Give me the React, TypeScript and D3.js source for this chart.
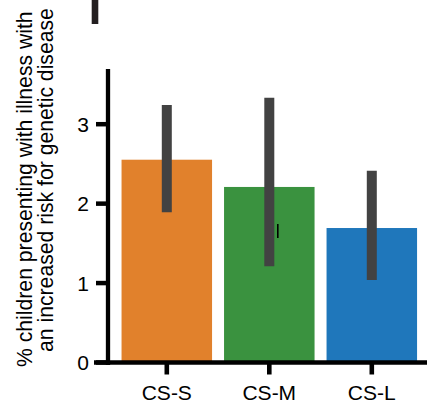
import React from "react";
import * as d3 from "d3";

const categories = ["CS-S", "CS-M", "CS-L"];
const means = [2.553, 2.21, 1.693];
const ciLow = [1.891, 1.211, 1.039];
const ciHigh = [3.242, 3.334, 2.415];
const colors = ["#E1812C", "#3A923F", "#1F77BB"];
const yTicks = [0, 1, 2, 3];
const yLabelLines = [
  "% children presenting with illness with",
  "an increased risk for genetic disease",
];
// stray glyph in the original, on the CS-M bar (value range)
const strayMark = { category: "CS-M", offset: 8.5, from: 1.567, to: 1.744 };

const W = 427;
const H = 402;
const FONT = "'Liberation Sans', Arial, Helvetica, sans-serif";

export default function App() {
  const y = d3.scaleLinear().domain([0, 3.695]).range([362.5, 69]);
  const x = d3
    .scaleBand<string>()
    .domain(categories)
    .range([115.55, 423.05])
    .paddingInner(0.117)
    .paddingOuter(0.0585);
  const bw = x.bandwidth();
  const axisX = 108;
  const axisW = 4.3;

  return (
    <svg
      width={W}
      height={H}
      style={{ position: "fixed", left: 0, top: 0, background: "#fff" }}
      fontFamily={FONT}
    >
      <rect x={91.7} y={0} width={6.6} height={24} fill="#231f20" />

      {/* bars */}
      {categories.map((c, i) => (
        <rect
          key={c}
          x={x(c)!}
          y={y(means[i])}
          width={bw}
          height={y(0) - y(means[i])}
          fill={colors[i]}
        />
      ))}

      {/* error bars */}
      {categories.map((c, i) => (
        <line
          key={"e" + c}
          x1={x(c)! + bw / 2}
          x2={x(c)! + bw / 2}
          y1={y(ciLow[i])}
          y2={y(ciHigh[i])}
          stroke="#424242"
          strokeWidth={10}
        />
      ))}

      <line
        x1={x(strayMark.category)! + bw / 2 + strayMark.offset}
        x2={x(strayMark.category)! + bw / 2 + strayMark.offset}
        y1={y(strayMark.from)}
        y2={y(strayMark.to)}
        stroke="#000"
        strokeWidth={1.6}
      />

      {/* y axis */}
      <line x1={axisX} x2={axisX} y1={y(3.695)} y2={y(0) + 2.5} stroke="#000" strokeWidth={axisW} />
      {yTicks.map((t) => (
        <g key={"yt" + t}>
          <line x1={96} x2={axisX} y1={y(t)} y2={y(t)} stroke="#000" strokeWidth={4.5} />
          <text
            x={89}
            y={y(t)}
            dy="0.36em"
            textAnchor="end"
            fontSize={21}
            fill="#000"
          >
            {t}
          </text>
        </g>
      ))}

      {/* x axis */}
      <line x1={94} x2={W} y1={y(0)} y2={y(0)} stroke="#000" strokeWidth={4.6} />
      {categories.map((c) => (
        <g key={"xt" + c}>
          <line
            x1={x(c)! + bw / 2}
            x2={x(c)! + bw / 2}
            y1={y(0)}
            y2={374.5}
            stroke="#000"
            strokeWidth={4.6}
          />
          <text x={x(c)! + bw / 2} y={399.5} textAnchor="middle" fontSize={21} fill="#000">
            {c}
          </text>
        </g>
      ))}

      {/* y label */}
      <text transform="rotate(-90)" x={-367} y={31.5} fontSize={21.2} fill="#000">
        {yLabelLines[0]}
      </text>
      <text transform="rotate(-90)" x={-352} y={53} fontSize={21.2} fill="#000">
        {yLabelLines[1]}
      </text>
    </svg>
  );
}
